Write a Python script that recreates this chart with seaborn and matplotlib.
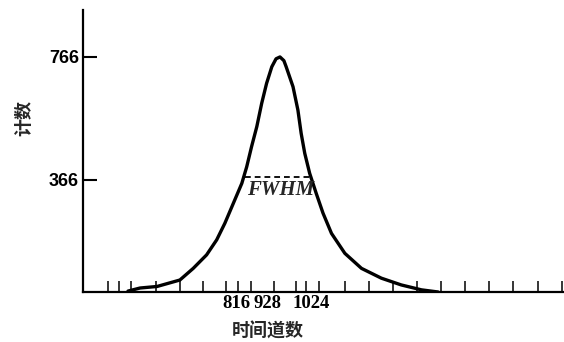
import matplotlib
matplotlib.use("Agg")
import matplotlib.pyplot as plt
import matplotlib.transforms as mtransforms
import seaborn as sns
import pandas as pd

# ---- data ----
channels = [479, 516, 568, 638, 679, 720, 751, 776, 802, 828, 843, 858, 874,
            889, 904, 920, 933, 945, 957, 964, 985, 1000, 1010, 1021, 1036,
            1056, 1077, 1103, 1144, 1195, 1256, 1317, 1379, 1430]
counts = [3, 13, 18, 39, 77, 121, 170, 224, 289, 354, 408, 474, 539,
          615, 680, 734, 760, 766, 754, 734, 669, 593, 517, 452, 387,
          322, 257, 191, 126, 77, 45, 23, 7, 0]
y_ticks = [366, 766]
x_tick_values = [816, 928, 1024]
x_tick_labels = ["816", "928", "1024"]
minor_ticks = [418, 451, 488, 565, 638, 709, 779, 856, 994, 1065, 1145, 1218,
               1292, 1365, 1439, 1513, 1586, 1660, 1737, 1810]
fwhm_left, fwhm_right, fwhm_level = 838, 1037, 375
fwhm_text = "FWHM"
x_label = "时间道数"
y_label = "计数"

df = pd.DataFrame({"channel": channels, "count": counts})

sns.set_style("white")
plt.rcParams["font.family"] = ["Noto Sans CJK SC", "DejaVu Sans"]

fig = plt.figure(figsize=(5.64, 3.42), dpi=100)
ax = fig.add_axes([83 / 564, 50 / 342, 1 - 83 / 564, 282 / 342])

sns.lineplot(data=df, x="channel", y="count", color="black", linewidth=2.4,
             sort=False, ax=ax, solid_joinstyle="round", solid_capstyle="round")

ax.plot([fwhm_left, fwhm_right], [fwhm_level, fwhm_level], color="black",
        linestyle=(0, (3.2, 2.2)), linewidth=1.3)
ax.text((fwhm_left + fwhm_right) / 2 + 10, fwhm_level - 43, fwhm_text,
        ha="center", va="center", fontsize=15, fontweight="bold",
        fontstyle="italic", family=["Liberation Serif", "DejaVu Serif"])

ax.set_xlim(341, 1816)
ax.set_ylim(0, 919)

for s in ["top", "right"]:
    ax.spines[s].set_visible(False)
for s in ["left", "bottom"]:
    ax.spines[s].set_linewidth(1.6)
    ax.spines[s].set_color("black")

ax.set_yticks(y_ticks)
ax.set_yticklabels([str(v) for v in y_ticks], fontsize=13, fontweight="bold",
                   family=["Liberation Sans", "DejaVu Sans"])
ax.tick_params(axis="y", direction="in", length=10, width=1.5, pad=3,
               left=True, colors="black")

ax.set_xticks(x_tick_values)
ax.set_xticklabels(x_tick_labels, fontsize=13.5, fontweight="bold",
                   family=["Liberation Serif", "DejaVu Serif"])
ax.set_xticks(minor_ticks, minor=True)
ax.tick_params(axis="x", which="both", direction="in", length=8, width=1.1,
               pad=2, bottom=True, colors="black")

# nudge the crowded tick labels apart, as in the reference
label_shift_px = [-1, -7, 5]
for lab, dx in zip(ax.get_xticklabels(), label_shift_px):
    lab.set_transform(lab.get_transform() +
                      mtransforms.ScaledTranslation(dx / 100, 0, fig.dpi_scale_trans))

ax.set_xlabel(x_label, fontsize=13, fontweight="bold", va="center", ha="center")
ax.xaxis.set_label_coords((268 - 83) / 481, (292 - 331) / 282)
ax.set_ylabel(y_label, fontsize=13, fontweight="bold", rotation=90,
              va="center", ha="center")
ax.yaxis.set_label_coords((24 - 83) / 481, (292 - 118) / 282)

fig.savefig("out.png", dpi=100)
